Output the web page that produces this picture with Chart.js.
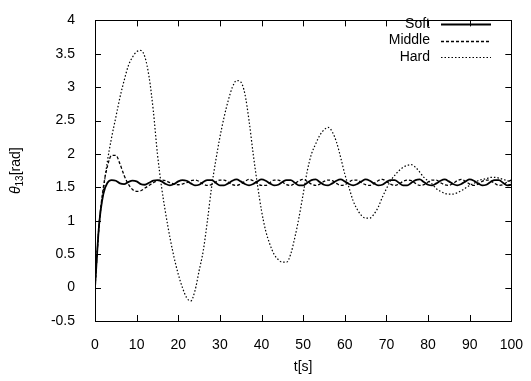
<!DOCTYPE html>
<html>
<head>
<meta charset="utf-8">
<script src="https://cdn.jsdelivr.net/npm/chart.js@4/dist/chart.umd.min.js"></script>
<style>
  html, body { margin: 0; padding: 0; background: #fff; }
  #wrap { width: 531px; height: 381px; }
</style>
</head>
<body>
<div id="wrap"><canvas id="chart" width="531" height="381"></canvas></div>
<script>
// time axis, seconds
const times = [0,1,2,3,4,5,6,7,8,9,10,11,12,13,14,15,16,17,18,19,20,21,22,23,24,25,26,27,28,29,30,
  31,32,33,34,35,36,37,38,39,40,41,42,43,44,45,46,47,48,49,50,51,52,53,54,55,56,57,58,59,60,
  61,62,63,64,65,66,67,68,69,70,71,72,73,74,75,76,77,78,79,80,81,82,83,84,85,86,87,88,89,90,
  91,92,93,94,95,96,97,98,99,100]

// theta_13 [rad]
const soft = [0,0.95,1.4,1.57,1.61,1.6,1.56,1.55,1.58,1.6,1.59,1.55,1.54,1.57,1.6,1.61,1.59,1.55,1.53,1.55,1.59,
  1.61,1.6,1.56,1.53,1.54,1.58,1.61,1.61,1.57,1.53,1.53,1.56,1.6,1.62,1.59,1.55,1.53,1.55,1.59,1.62,
  1.6,1.56,1.53,1.54,1.58,1.61,1.61,1.57,1.53,1.53,1.57,1.61,1.62,1.58,1.54,1.53,1.56,1.6,1.62,1.59,
  1.55,1.53,1.55,1.59,1.62,1.6,1.56,1.53,1.54,1.58,1.61,1.61,1.57,1.53,1.53,1.57,1.61,1.62,1.58,1.54,
  1.53,1.56,1.6,1.62,1.59,1.55,1.53,1.55,1.59,1.62,1.6,1.56,1.53,1.54,1.58,1.61,1.61,1.57,1.53,1.54]

const middle = [0,0.95,1.5,1.82,1.98,1.98,1.85,1.68,1.55,1.47,1.44,1.45,1.49,1.53,1.57,1.6,1.61,1.6,1.57,1.55,1.54,
  1.55,1.57,1.6,1.61,1.59,1.55,1.53,1.54,1.58,1.61,1.61,1.58,1.54,1.53,1.55,1.59,1.62,1.6,1.56,1.53,
  1.53,1.57,1.61,1.61,1.58,1.54,1.53,1.56,1.6,1.62,1.59,1.55,1.53,1.55,1.59,1.61,1.6,1.56,1.53,1.54,
  1.58,1.61,1.61,1.57,1.54,1.53,1.56,1.6,1.62,1.59,1.55,1.53,1.55,1.59,1.61,1.6,1.56,1.53,1.54,1.58,
  1.61,1.61,1.57,1.54,1.53,1.56,1.6,1.62,1.59,1.55,1.53,1.55,1.59,1.61,1.6,1.56,1.53,1.54,1.58,1.61]

const hard = [0,0.95,1.45,1.9,2.25,2.55,2.85,3.1,3.32,3.45,3.53,3.55,3.45,3.15,2.65,2.0,1.5,1.1,0.75,0.45,0.2,
  0.0,-0.15,-0.2,-0.05,0.25,0.55,1.0,1.5,1.9,2.25,2.55,2.8,3.0,3.1,3.08,2.9,2.5,2.0,1.55,1.15,
  0.85,0.65,0.5,0.42,0.38,0.38,0.5,0.75,1.05,1.4,1.75,2.0,2.15,2.28,2.36,2.4,2.33,2.18,1.95,1.7,
  1.5,1.3,1.17,1.08,1.04,1.04,1.1,1.2,1.35,1.48,1.6,1.68,1.75,1.8,1.83,1.84,1.8,1.73,1.65,1.6,
  1.55,1.48,1.44,1.41,1.4,1.4,1.42,1.45,1.49,1.53,1.56,1.6,1.62,1.63,1.65,1.65,1.64,1.62,1.6,1.58]

const seriesNames = ["Soft", "Middle", "Hard"]
const xTicks = { min: 0, max: 100, step: 10 }
const yTicks = { min: -0.5, max: 4, step: 0.5 }

const FONT = "Liberation Sans, Arial, sans-serif"

function toPoints(values) {
  return values.map((v, i) => ({ x: times[i], y: v }))
}

// gnuplot style: box border + inward ticks on all sides
const frame = {
  id: "frame",
  afterDatasetsDraw(chart) {
    const { ctx, chartArea: a, scales } = chart
    ctx.save()
    ctx.strokeStyle = "#000"
    ctx.lineWidth = 1
    ctx.beginPath()
    scales.x.ticks.forEach((t) => {
      const px = Math.round(scales.x.getPixelForValue(t.value)) + 0.5
      ctx.moveTo(px, a.bottom); ctx.lineTo(px, a.bottom - 6)
      ctx.moveTo(px, a.top); ctx.lineTo(px, a.top + 6)
    })
    scales.y.ticks.forEach((t) => {
      const py = Math.round(scales.y.getPixelForValue(t.value)) + 0.5
      ctx.moveTo(a.left, py); ctx.lineTo(a.left + 6, py)
      ctx.moveTo(a.right, py); ctx.lineTo(a.right - 6, py)
    })
    ctx.stroke()
    ctx.strokeRect(Math.round(a.left) + 0.5, Math.round(a.top) + 0.5,
      Math.round(a.right - a.left), Math.round(a.bottom - a.top))
    ctx.restore()
  },
}

// legend in the top right corner, text right-aligned then the line sample
const keyBox = {
  id: "keyBox",
  afterDraw(chart) {
    const { ctx } = chart
    ctx.save()
    ctx.font = "14px " + FONT
    ctx.fillStyle = "#000"
    ctx.textAlign = "right"
    ctx.textBaseline = "middle"
    chart.data.datasets.forEach((ds, i) => {
      const y = 24 + i * 16.5
      ctx.fillText(ds.label, 430, y)
      ctx.strokeStyle = "#000"
      ctx.lineWidth = ds.borderWidth
      ctx.setLineDash(ds.borderDash || [])
      ctx.beginPath()
      ctx.moveTo(441, Math.round(y) + 0.5)
      ctx.lineTo(491, Math.round(y) + 0.5)
      ctx.stroke()
    })
    ctx.restore()
  },
}

// axis titles (theta with subscript needs hand drawing)
const titles = {
  id: "titles",
  afterDraw(chart) {
    const { ctx, chartArea: a } = chart
    ctx.save()
    ctx.fillStyle = "#000"
    ctx.textBaseline = "alphabetic"
    ctx.font = "14px " + FONT
    ctx.textAlign = "center"
    ctx.fillText("t[s]", (a.left + a.right) / 2, 371)

    const parts = [
      { text: "θ", font: "italic 14px " + FONT, dy: 0 },
      { text: "13", font: "10px " + FONT, dy: 3 },
      { text: "[rad]", font: "14px " + FONT, dy: 0 },
    ]
    let total = 0
    parts.forEach((p) => { ctx.font = p.font; p.w = ctx.measureText(p.text).width; total += p.w })
    ctx.translate(20, (a.top + a.bottom) / 2)
    ctx.rotate(-Math.PI / 2)
    ctx.textAlign = "left"
    let x = -total / 2
    parts.forEach((p) => {
      ctx.font = p.font
      ctx.fillText(p.text, x, p.dy)
      x += p.w
    })
    ctx.restore()
  },
}

new Chart(document.getElementById("chart"), {
  type: "line",
  data: {
    datasets: [
      {
        label: seriesNames[0],
        data: toPoints(soft),
        borderColor: "#000",
        borderWidth: 1.8,
        borderDash: [],
      },
      {
        label: seriesNames[1],
        data: toPoints(middle),
        borderColor: "#000",
        borderWidth: 1.3,
        borderDash: [3, 2],
      },
      {
        label: seriesNames[2],
        data: toPoints(hard),
        borderColor: "#000",
        borderWidth: 1.2,
        borderDash: [1.5, 2],
      },
    ],
  },
  options: {
    responsive: false,
    animation: false,
    devicePixelRatio: 1,
    cubicInterpolationMode: "monotone",
    elements: { point: { radius: 0 }, line: { fill: false } },
    layout: { padding: { left: 0, right: 16, top: 17, bottom: 0 } },
    plugins: { legend: { display: false }, tooltip: { enabled: false } },
    scales: {
      x: {
        type: "linear",
        min: xTicks.min,
        max: xTicks.max,
        grid: { display: false },
        border: { display: false },
        ticks: {
          stepSize: xTicks.step,
          padding: 8,
          color: "#000",
          font: { family: FONT, size: 14 },
          maxRotation: 0,
        },
        afterFit: (s) => { s.height = 60 },
      },
      y: {
        min: yTicks.min,
        max: yTicks.max,
        grid: { display: false },
        border: { display: false },
        ticks: {
          stepSize: yTicks.step,
          padding: 12,
          color: "#000",
          font: { family: FONT, size: 14 },
          callback: (v) => String(Math.round(v * 10) / 10),
        },
        afterFit: (s) => { s.width = 95 },
      },
    },
  },
  plugins: [frame, keyBox, titles],
})
</script>
</body>
</html>
